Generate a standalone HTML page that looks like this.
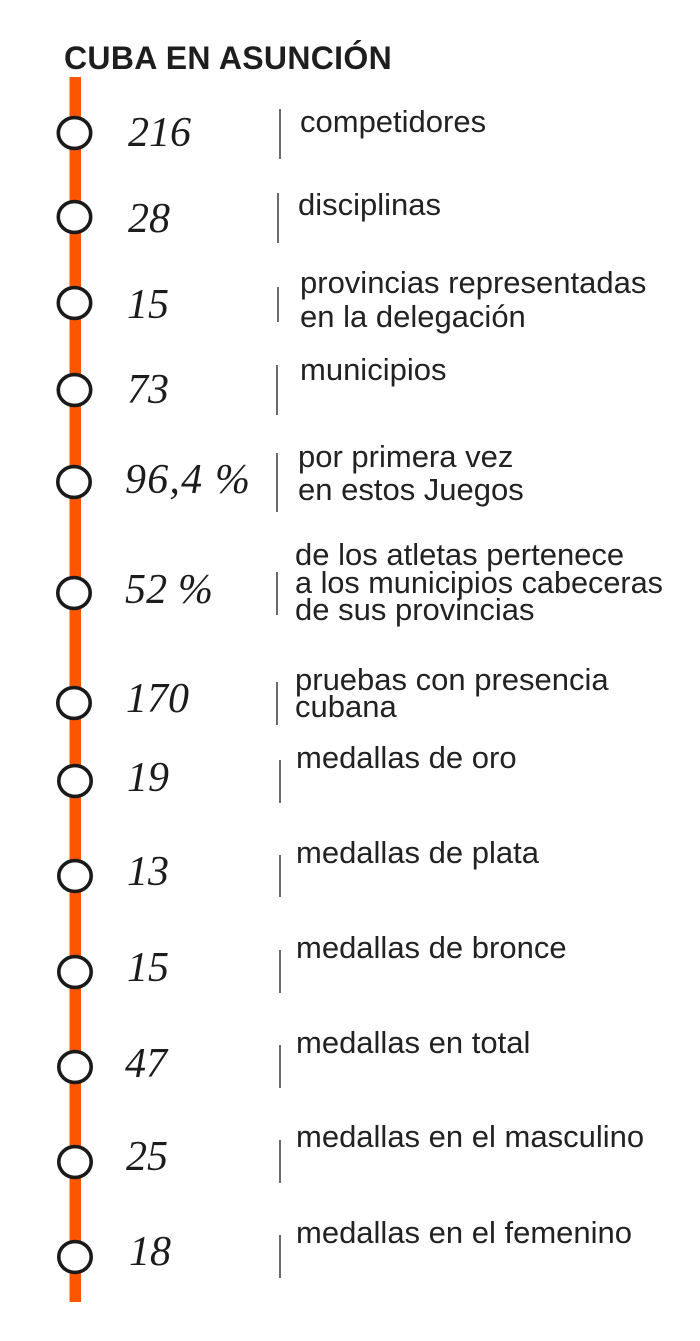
<!DOCTYPE html>
<html>
<head>
<meta charset="utf-8">
<style>
  html,body{margin:0;padding:0;background:#fff;}
  body{width:700px;height:1341px;overflow:hidden;}
  svg{display:block;}
  .num{font-family:"Liberation Serif",serif;font-style:italic;font-size:42px;fill:#1c1c1c;}
  .lbl{font-family:"Liberation Sans",sans-serif;font-size:31px;fill:#222;}
  .ttl{font-family:"Liberation Sans",sans-serif;font-weight:bold;font-size:32px;fill:#1e1e1e;letter-spacing:0.3px;}
</style>
</head>
<body>
<svg width="700" height="1341" viewBox="0 0 700 1341" xmlns="http://www.w3.org/2000/svg">
  <rect x="0" y="0" width="700" height="1341" fill="#fff"/>
  <text class="ttl" x="64" y="69" textLength="328" lengthAdjust="spacing">CUBA EN ASUNCIÓN</text>

  <!-- orange bar -->
  <rect x="69.5" y="77" width="11.5" height="1225" fill="#fe5500"/>

  <!-- circles -->
  <g fill="#fff" stroke="#1a1a1a" stroke-width="3.6">
    <ellipse cx="74.5" cy="133" rx="16.2" ry="15.4"/>
    <ellipse cx="74.5" cy="217" rx="16.2" ry="15.4"/>
    <ellipse cx="74.5" cy="303" rx="16.2" ry="15.4"/>
    <ellipse cx="74.5" cy="390" rx="16.2" ry="15.4"/>
    <ellipse cx="74" cy="482" rx="16.2" ry="15.4"/>
    <ellipse cx="74" cy="593" rx="16.2" ry="15.4"/>
    <ellipse cx="74" cy="703" rx="16.2" ry="15.4"/>
    <ellipse cx="75" cy="781" rx="16.2" ry="15.4"/>
    <ellipse cx="75" cy="876" rx="16.2" ry="15.4"/>
    <ellipse cx="75" cy="972" rx="16.2" ry="15.4"/>
    <ellipse cx="75" cy="1067" rx="16.2" ry="15.4"/>
    <ellipse cx="75" cy="1162" rx="16.2" ry="15.4"/>
    <ellipse cx="75" cy="1257" rx="16.2" ry="15.4"/>
  </g>

  <!-- numbers -->
  <text class="num" x="128" y="146">216</text>
  <text class="num" x="128" y="232">28</text>
  <text class="num" x="127" y="318">15</text>
  <text class="num" x="127" y="403">73</text>
  <text class="num" x="125" y="493" textLength="125" lengthAdjust="spacing">96,4 %</text>
  <text class="num" x="125" y="603" textLength="88" lengthAdjust="spacing">52 %</text>
  <text class="num" x="126" y="712">170</text>
  <text class="num" x="127" y="791">19</text>
  <text class="num" x="127" y="885">13</text>
  <text class="num" x="127" y="981">15</text>
  <text class="num" x="125" y="1077">47</text>
  <text class="num" x="126" y="1170">25</text>
  <text class="num" x="129" y="1265">18</text>

  <!-- separators -->
  <g stroke="#6a6a6a" stroke-width="2">
    <line x1="280" y1="109" x2="280" y2="159"/>
    <line x1="278" y1="193" x2="278" y2="243"/>
    <line x1="278" y1="287" x2="278" y2="322"/>
    <line x1="277" y1="365" x2="277" y2="415"/>
    <line x1="277" y1="453" x2="277" y2="512"/>
    <line x1="277" y1="572" x2="277" y2="615"/>
    <line x1="277" y1="682" x2="277" y2="725"/>
    <line x1="280" y1="760" x2="280" y2="803"/>
    <line x1="280" y1="855" x2="280" y2="897"/>
    <line x1="280" y1="950" x2="280" y2="993"/>
    <line x1="280" y1="1045" x2="280" y2="1088"/>
    <line x1="280" y1="1140" x2="280" y2="1183"/>
    <line x1="280" y1="1235" x2="280" y2="1278"/>
  </g>

  <!-- labels -->
  <text class="lbl" x="300" y="132">competidores</text>
  <text class="lbl" x="298" y="215">disciplinas</text>
  <text class="lbl" x="300" y="293">provincias representadas</text>
  <text class="lbl" x="300" y="327">en la delegación</text>
  <text class="lbl" x="300" y="380">municipios</text>
  <text class="lbl" x="298" y="467">por primera vez</text>
  <text class="lbl" x="298" y="500">en estos Juegos</text>
  <text class="lbl" x="295" y="565">de los atletas pertenece</text>
  <text class="lbl" x="295" y="593" textLength="368" lengthAdjust="spacingAndGlyphs">a los municipios cabeceras</text>
  <text class="lbl" x="295" y="620">de sus provincias</text>
  <text class="lbl" x="295" y="690">pruebas con presencia</text>
  <text class="lbl" x="295" y="717">cubana</text>
  <text class="lbl" x="296" y="768">medallas de oro</text>
  <text class="lbl" x="296" y="863">medallas de plata</text>
  <text class="lbl" x="296" y="958">medallas de bronce</text>
  <text class="lbl" x="296" y="1053">medallas en total</text>
  <text class="lbl" x="296" y="1147">medallas en el masculino</text>
  <text class="lbl" x="296" y="1243">medallas en el femenino</text>
</svg>
</body>
</html>
